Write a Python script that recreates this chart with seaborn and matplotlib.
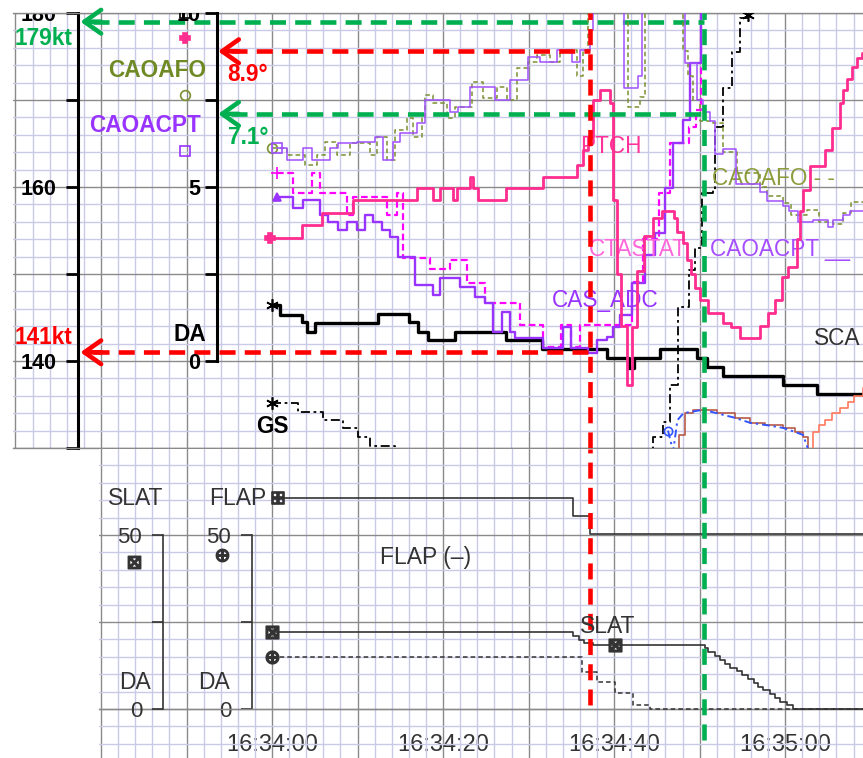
import matplotlib
matplotlib.use("Agg")
import matplotlib.pyplot as plt
import seaborn as sns
from matplotlib.ticker import MultipleLocator, FixedLocator, FuncFormatter

# all times are seconds after 16:34:00

# ---- upper panel, speeds (kt)
scas_t = [0.0, 0.9, 3.5, 4.1, 5.0, 12.4, 16.0, 17.1, 18.2, 21.4, 27.3, 31.6,
          39.2, 41.7, 42.3, 45.4, 49.7, 50.9, 52.7, 59.8, 63.7, 69.1]
scas_kt = [146.4, 145.3, 144.5, 143.3, 144.4, 145.4, 144.5, 143.3, 142.4, 143.3, 142.4, 141.4,
           140.3, 139.2, 140.3, 141.4, 140.3, 139.3, 138.3, 137.2, 136.2, 136.2]

cas_t = [0.6, 2.5, 3.6, 5.6, 6.5, 7.7, 8.8, 9.9, 10.9, 11.8, 12.9, 13.8, 14.7, 16.7,
         18.8, 19.6, 22.0, 23.7, 24.9, 25.8, 26.9, 27.8, 28.4, 31.7, 34.0, 34.9, 37.0,
         38.0, 39.2, 39.9, 40.7, 42.1, 43.6, 44.8, 46.0, 46.9, 48.1, 48.9, 50.1]
cas_kt = [158.9, 157.6, 158.5, 156.8, 156.0, 155.1, 156.0, 155.1, 156.8, 156.0, 155.1, 154.3,
          152.0, 148.7, 147.6, 149.5, 148.5, 147.4, 146.7, 143.3, 145.6, 143.3, 142.6, 141.5,
          143.9, 141.5, 140.9, 142.4, 142.8, 143.9, 145.3, 149.0, 152.2, 154.7, 159.9, 165.1,
          167.7, 174.3, 182.0]

ctas_t = [0.6, 2.5, 4.7, 5.6, 8.8, 9.5, 13.5, 14.6, 15.3, 18.5, 20.8, 22.8, 24.9, 29.0,
          31.7, 33.8, 34.9, 36.0, 42.1, 43.4, 45.2, 46.5, 48.7, 49.6, 50.1]
ctas_kt = [161.6, 159.3, 161.6, 159.3, 156.8, 158.9, 156.8, 159.3, 151.8, 150.6, 151.6, 149.0,
           146.7, 144.1, 141.6, 144.1, 141.6, 144.1, 149.1, 154.0, 159.3, 165.1, 166.9, 168.9,
           182.0]

gs_t1 = [0.0, 3.0, 6.0, 8.3, 10.0, 11.5, 14.4]
gs_kt1 = [135.2, 134.1, 133.2, 132.3, 131.3, 130.2, 128.5]
gs_t2 = [44.4, 44.6, 45.7, 46.5, 47.5, 48.7, 49.5, 50.3, 51.6, 51.8, 52.7, 53.8, 54.7, 55.6]
gs_kt2 = [128.5, 131.3, 133.0, 137.2, 146.2, 150.5, 153.0, 159.3, 159.7, 166.9, 171.4,
          175.5, 179.4, 179.8]

g_t = [46.3, 46.9, 47.4, 48.1, 50.4, 52.0, 54.0, 55.9, 58.0, 59.8, 61.0, 62.1, 62.7]
g_kt = [132.0, 129.6, 133.2, 134.0, 134.4, 134.0, 133.5, 132.9, 132.6, 132.3, 131.9, 131.5, 129.8]

brown_t = [47.1, 47.6, 48.3, 49.2, 50.4, 52.0, 54.1, 55.9, 57.6, 59.8, 61.2, 62.1, 62.7]
brown_kt = [129.5, 131.5, 134.0, 134.4, 134.4, 134.0, 133.4, 132.9, 132.6, 132.3, 131.8, 131.3, 129.8]

coral_t = [62.7, 63.2, 63.9, 64.7, 65.5, 66.4, 67.3, 68.1, 69.1]
coral_kt = [129.8, 131.8, 132.6, 133.2, 134.0, 134.6, 135.3, 136.0, 136.9]

# ---- upper panel, angles (deg, DA scale)
aoa_t = [0.6, 1.75, 3.6, 4.7, 6.8, 7.7, 9.9, 12.0, 13.0, 14.2, 15.0, 17.0, 17.9, 20.8,
         21.8, 23.2, 26.1, 27.8, 29.9, 31.3, 33.3, 35.1, 36.0, 37.2, 37.5, 41.1, 42.8, 43.3,
         48.3, 49.7, 50.4, 51.2, 51.8, 52.7, 54.2, 57.1, 57.9, 59.8, 60.4, 61.5, 63.3, 65.0,
         65.6, 66.8, 67.6, 69.1]
aoa_deg = [6.12, 5.78, 6.12, 5.78, 6.12, 6.26, 6.29, 6.44, 5.78, 6.29, 6.55, 6.84, 7.50, 7.16,
           7.30, 7.87, 7.50, 8.07, 8.74, 8.59, 8.94, 8.59, 8.94, 9.50, 10.6, 7.84, 8.20, 10.6,
           8.56, 7.50, 7.15, 6.90, 5.95, 6.10, 5.10, 4.85, 4.60, 4.45, 4.30, 4.00, 4.05, 3.85,
           4.05, 4.20, 4.30, 4.30]

afo_t = [0.0, 1.75, 3.9, 5.3, 6.2, 7.6, 9.1, 11.5, 12.3, 13.5, 14.4, 15.8, 16.5, 17.5,
         17.9, 18.8, 20.5, 21.4, 23.4, 24.7, 26.3, 27.5, 28.7, 29.9, 31.0, 32.5, 33.7, 35.7,
         36.4, 36.9, 41.6, 43.0, 43.6, 48.0, 48.6, 49.2, 50.0, 51.6, 52.7, 54.4, 57.1, 57.9,
         59.8, 60.7, 62.5, 63.9, 65.6, 66.8, 67.7, 69.1]
afo_deg = [6.12, 5.92, 5.63, 5.92, 6.29, 5.92, 6.26, 5.92, 6.44, 5.78, 6.64, 6.98, 6.44, 7.00,
           7.64, 7.41, 6.98, 7.30, 8.02, 7.56, 7.87, 7.50, 8.42, 8.59, 8.79, 8.59, 8.94, 8.20,
           8.94, 10.6, 7.30, 7.60, 10.6, 8.90, 8.20, 7.50, 6.90, 6.84, 6.00, 5.40, 5.00, 4.75,
           4.55, 4.20, 4.35, 4.00, 3.95, 4.25, 4.57, 4.57]

ptch_t = [-0.2, 3.5, 5.85, 9.5, 17.0, 18.8, 19.6, 21.2, 21.6, 23.2, 23.5, 24.1, 27.3, 31.7,
          35.7, 36.4, 37.0, 37.5, 38.4, 39.5, 39.9, 40.3, 40.8, 41.5, 42.1, 42.7, 43.5, 44.5,
          45.6, 47.0, 47.4, 48.0, 48.5, 49.0, 49.5, 50.0, 51.0, 52.7, 53.7, 54.7, 57.0, 58.0,
          58.8, 59.6, 60.3, 61.4, 61.75, 62.1, 62.9, 64.7, 65.5, 66.4, 66.8, 67.25, 67.8,
          68.4, 69.0]
ptch_deg = [3.53, 3.91, 4.25, 4.63, 4.97, 4.63, 4.97, 4.63, 4.97, 5.29, 4.97, 4.63, 4.97, 5.29,
            5.63, 6.06, 6.44, 7.50, 7.79, 7.41, 4.63, 2.50, 1.00, -0.69, 0.98, 2.60, 3.60, 4.10,
            4.30, 4.10, 3.70, 3.40, 2.90, 2.50, 2.10, 1.75, 1.39, 1.10, 0.98, 0.66, 1.00, 1.39,
            1.75, 2.40, 2.70, 3.50, 4.30, 4.90, 5.60, 6.06, 6.70, 7.40, 7.80, 8.10, 8.45,
            8.70, 8.85]

# ---- lower panel, surfaces (deg)
flap_t = [0.7, 35.2, 37.2, 69.1]
flap_deg = [60.6, 55.5, 50.3, 50.3]
slat_t = [0.0, 35.2, 35.9, 36.5, 37.5, 40.1, 50.6, 51.0, 51.8, 52.4, 53.0, 53.6, 54.4, 55.0,
          55.6, 56.3, 56.8, 57.4, 58.2, 58.8, 59.4, 60.2, 60.9, 69.1]
slat_deg = [22.1, 21.0, 19.8, 19.0, 18.4, 18.4, 17.4, 16.3, 15.2, 14.1, 13.0, 11.9, 10.8, 9.7,
            8.6, 7.5, 6.4, 5.3, 4.3, 3.2, 2.1, 1.0, 0.0, 0.0]
flapd_t = [0.0, 36.3, 38.0, 40.1, 42.2, 44.2, 69.1]
flapd_deg = [14.9, 10.6, 7.8, 4.6, 1.1, 0.0, 0.0]

# marked instants
red_t, red_kt, red_deg = 37.2, 141, 8.9
green_t, green_kt, green_deg = 50.5, 179, 7.1

RED = "#ff0000"
GREEN = "#00b050"
PURPLE = "#9933ff"
OLIVE = "#7a9030"
PINK = "#ff2d8f"
MAGENTA = "#ff00ff"
GREY = "#333333"
ASTERISK = (6, 2, 0)

sns.set_style("white")
plt.rcParams["font.family"] = ["Liberation Sans", "DejaVu Sans"]
plt.rcParams["mathtext.fontset"] = "dejavusans"

fig = plt.figure(figsize=(8.63, 7.58), dpi=100)
ax = fig.add_axes([12.9 / 863, 1 - 448 / 758, 1 - 12.9 / 863, 435 / 758])
ax_low = fig.add_axes([99.3 / 863, 0.0, 1 - 99.3 / 863, 309 / 758])


def paper(a, ymaj, ymin):
    a.xaxis.set_major_locator(MultipleLocator(10))
    a.xaxis.set_minor_locator(MultipleLocator(2))
    a.yaxis.set_major_locator(MultipleLocator(ymaj))
    a.yaxis.set_minor_locator(MultipleLocator(ymin))
    a.grid(which="minor", color="#c9c9e8", lw=1.0)
    a.grid(which="major", color="#8a8a8a", lw=1.0)
    a.set_axisbelow(True)
    a.tick_params(which="minor", length=0)


def trace(a, t, v, color, lw, ls="-", marker=None, ms=7, every=(0,), filled=False,
          steps=True, z=3):
    kw = dict(color=color, lw=lw, linestyle=ls, zorder=z)
    if marker is not None:
        kw.update(marker=marker, markersize=ms, markevery=list(every),
                  markeredgecolor=color, markeredgewidth=1.2,
                  markerfacecolor=color if filled else "none")
    if steps:
        kw["drawstyle"] = "steps-post"
    sns.lineplot(x=t, y=v, ax=a, estimator=None, sort=False, **kw)


def guide(a, x0, x1, y, color):
    a.plot([x0 + 1.5, x1], [y, y], color=color, lw=3.3, ls=(0, (3.5, 2)),
           solid_capstyle="butt", zorder=20)
    a.annotate("", xy=(x0, y), xytext=(x0 + 2.4, y), zorder=20,
               arrowprops=dict(arrowstyle="->,head_length=1.2,head_width=0.85",
                               color=color, lw=3.3, shrinkA=0, shrinkB=0))


# ---------------- upper panel ----------------
ax.set_xlim(-30.3, 69.1)
ax.set_ylim(130, 180)
paper(ax, 10, 2)
ax_deg = ax.twinx()
ax_deg.set_ylim(-2.5, 10.0)

trace(ax, scas_t, scas_kt, "black", 2.4, marker=ASTERISK, ms=9)
trace(ax, gs_t1, gs_kt1, "black", 1.3, ls=(0, (5, 2, 1.5, 2)), marker=ASTERISK, ms=9)
trace(ax, gs_t2, gs_kt2, "black", 1.3, ls=(0, (5, 2, 1.5, 2)), marker=ASTERISK, ms=9,
      every=(len(gs_t2) - 1,))
trace(ax, brown_t, brown_kt, "#b85a48", 1.2)
trace(ax, coral_t, coral_kt, "#ff7a5c", 1.2)
trace(ax, g_t, g_kt, "#3355ff", 1.4, ls=(0, (4, 2, 1.2, 2)), marker="o", ms=6, steps=False)
trace(ax, ctas_t, ctas_kt, MAGENTA, 1.6, ls=(0, (3, 1.6)), marker="+", ms=8)
trace(ax, cas_t, cas_kt, PURPLE, 1.7, marker="^", ms=6, filled=True)

trace(ax_deg, afo_t, afo_deg, OLIVE, 1.1, ls=(0, (3, 2)), marker="o", ms=7)
trace(ax_deg, aoa_t, aoa_deg, "#a050ff", 1.1, marker="s", ms=7)
trace(ax_deg, ptch_t, ptch_deg, PINK, 2.0, marker="P", ms=7, filled=True)

# legend keys beside the DA scale
key_t = -10.2
key_deg = [10.0, 9.28, 7.64, 6.03]
key_mark = ["s", "P", "o", "s"]
key_col = ["black", PINK, OLIVE, PURPLE]
for kd, km, kc in zip(key_deg, key_mark, key_col):
    ax_deg.plot([key_t], [kd], marker=km, ms=7, mec=kc, mew=1.2,
                mfc=kc if km == "P" else "none", ls="none")

# kt scale (left spine)
ax.spines["right"].set_visible(False)
for side in ["top", "bottom"]:
    ax.spines[side].set_color("#8a8a8a")
    ax.spines[side].set_linewidth(1.0)
ax.spines["left"].set_position(("data", -22.7))
ax.spines["left"].set_color("black")
ax.spines["left"].set_linewidth(2.2)
ax.yaxis.set_major_formatter(FuncFormatter(
    lambda v, p: f"{v:.0f}" if round(v) in (140, 160, 180) else ""))
ax.tick_params(axis="y", which="major", direction="out", length=8.5, width=2,
               pad=7, labelsize=15.5, colors="black")
ax.tick_params(axis="x", which="both", length=0, labelbottom=False)
for tk in ax.yaxis.get_major_ticks():
    tk.label1.set_fontweight("bold")
    tk.label1.set_clip_on(True)
    tk.label1.set_clip_box(ax.bbox)

# DA scale
for side in ["right", "top", "bottom"]:
    ax_deg.spines[side].set_visible(False)
ax_deg.yaxis.tick_left()
ax_deg.spines["left"].set_visible(True)
ax_deg.spines["left"].set_position(("data", -6.43))
ax_deg.spines["left"].set_bounds(0, 10)
ax_deg.spines["left"].set_color("black")
ax_deg.spines["left"].set_linewidth(2.2)
ax_deg.yaxis.set_major_locator(FixedLocator([0, 2.5, 5, 7.5, 10]))
ax_deg.yaxis.set_major_formatter(FuncFormatter(
    lambda v, p: f"{v:.0f}" if v in (0, 5, 10) else ""))
ax_deg.tick_params(axis="y", direction="out", length=8.5, width=2, pad=3.5,
                   labelsize=15.5, colors="black")
for tk in ax_deg.yaxis.get_major_ticks():
    tk.label1.set_fontweight("bold")
    tk.label1.set_clip_on(True)
    tk.label1.set_clip_box(ax.bbox)

# marked values
guide(ax, -22.4, green_t, green_kt, GREEN)
guide(ax, -22.4, red_t, red_kt, RED)
guide(ax_deg, -6.3, red_t, red_deg, RED)
guide(ax_deg, -6.3, green_t, green_deg, GREEN)
ax_deg.axvline(red_t, color=RED, lw=3.3, ls=(0, (3.5, 2)), zorder=20)
ax_deg.axvline(green_t, color=GREEN, lw=3.3, ls=(0, (3.5, 2)), zorder=20)

top_labels = [
    ("179kt", -30.1, 177.1, GREEN, "bold", "left"),
    ("CAOAFO", -13.45, 173.4, "#6f8a25", "bold", "center"),
    ("CAOACPT", -14.85, 167.1, PURPLE, "bold", "center"),
    ("8.9°", -5.2, 172.9, RED, "bold", "left"),
    ("7.1°", -5.2, 165.7, GREEN, "bold", "left"),
    ("DA", -9.65, 143.1, "black", "bold", "center"),
    ("141kt", -30.1, 142.7, RED, "bold", "left"),
    ("GS", 0.0, 132.5, "black", "bold", "center"),
    ("PTCH", 36.0, 164.7, "#ff3399", "normal", "left"),
    ("CTASTAT", 37.0, 152.8, "#ff66d9", "normal", "left"),
    ("CAOACPT __", 51.2, 152.8, "#a64dff", "normal", "left"),
    ("CAOAFO - -", 51.5, 161.0, "#8c9c3c", "normal", "left"),
    ("CAS_ADC", 32.7, 147.0, PURPLE, "normal", "left"),
    ("SCA", 63.4, 142.6, GREY, "normal", "left"),
]
for txt, tx, ty, col, wt, ha in top_labels:
    ax.text(tx, ty, txt, color=col, fontweight=wt, ha=ha, va="center",
            fontsize=16.3, zorder=25)

# ---------------- lower panel ----------------
ax_low.set_xlim(-20.2, 69.1)
ax_low.set_ylim(-14.1, 74.7)
paper(ax_low, 25, 5)

trace(ax_low, flap_t, flap_deg, GREY, 1.2, marker="$\\boxplus$", ms=9, filled=True)
trace(ax_low, slat_t, slat_deg, GREY, 1.2, marker="$\\boxtimes$", ms=9,
      every=(0, 5), filled=True)
trace(ax_low, flapd_t, flapd_deg, GREY, 1.1, ls=(0, (3, 2)), marker="$\\oplus$", ms=9,
      filled=True)
ax_low.plot([-16.1], [42.2], marker="$\\boxtimes$", ms=9, color=GREY, ls="none")
ax_low.plot([-5.85], [44.3], marker="$\\oplus$", ms=9, color=GREY, ls="none")

ax_low.vlines(red_t, 1.1, 74.7, color=RED, lw=3.3, ls=(0, (3.5, 2)), zorder=20)
ax_low.vlines(green_t, -8.9, 74.7, color=GREEN, lw=3.3, ls=(0, (3.5, 2)), zorder=20)

for side in ["top", "right"]:
    ax_low.spines[side].set_visible(False)
ax_low.spines["bottom"].set_position(("data", 0))
ax_low.spines["bottom"].set_color("#8a8a8a")
ax_low.spines["bottom"].set_linewidth(1.0)
ax_low.spines["left"].set_position(("data", -2.34))
ax_low.spines["left"].set_bounds(0, 50)
ax_low.spines["left"].set_color(GREY)
ax_low.spines["left"].set_linewidth(1.2)


def clock(v, p):
    s = int(round(v))
    if s < 0 or s % 20:
        return ""
    return f"16:{34 + s // 60}:{s % 60:02d}"


ax_low.xaxis.set_major_formatter(FuncFormatter(clock))
ax_low.yaxis.set_major_formatter(FuncFormatter(
    lambda v, p: f"{v:.0f}" if v in (0, 50) else ""))
ax_low.tick_params(axis="x", which="major", direction="out", length=8, width=1.2,
                   color=GREY, pad=10, labelsize=17, labelcolor=GREY)
ax_low.tick_params(axis="y", which="major", direction="out", length=8, width=1.2,
                   color=GREY, pad=7, labelsize=16, labelcolor=GREY)

ax_slat = ax_low.twinx()
ax_slat.set_ylim(-14.1, 74.7)
for side in ["right", "top", "bottom"]:
    ax_slat.spines[side].set_visible(False)
ax_slat.yaxis.tick_left()
ax_slat.spines["left"].set_visible(True)
ax_slat.spines["left"].set_position(("data", -12.75))
ax_slat.spines["left"].set_bounds(0, 50)
ax_slat.spines["left"].set_color(GREY)
ax_slat.spines["left"].set_linewidth(1.2)
ax_slat.yaxis.set_major_locator(FixedLocator([0, 25, 50]))
ax_slat.yaxis.set_major_formatter(FuncFormatter(
    lambda v, p: f"{v:.0f}" if v in (0, 50) else ""))
ax_slat.tick_params(axis="y", direction="out", length=8, width=1.2, color=GREY,
                    pad=7, labelsize=16, labelcolor=GREY)

low_labels = [
    ("SLAT", -16.0, 60.6),
    ("FLAP", -4.0, 60.6),
    ("FLAP (–)", 17.9, 43.4),
    ("DA", -16.0, 7.5),
    ("DA", -6.8, 7.5),
    ("SLAT", 39.2, 23.6),
]
for txt, tx, ty in low_labels:
    ax_low.text(tx, ty, txt, color=GREY, ha="center", va="center", fontsize=16.5, zorder=25)

for a in [ax, ax_deg, ax_low, ax_slat]:
    a.set_xlabel("")
    a.set_ylabel("")

fig.savefig("out.png", dpi=100)
